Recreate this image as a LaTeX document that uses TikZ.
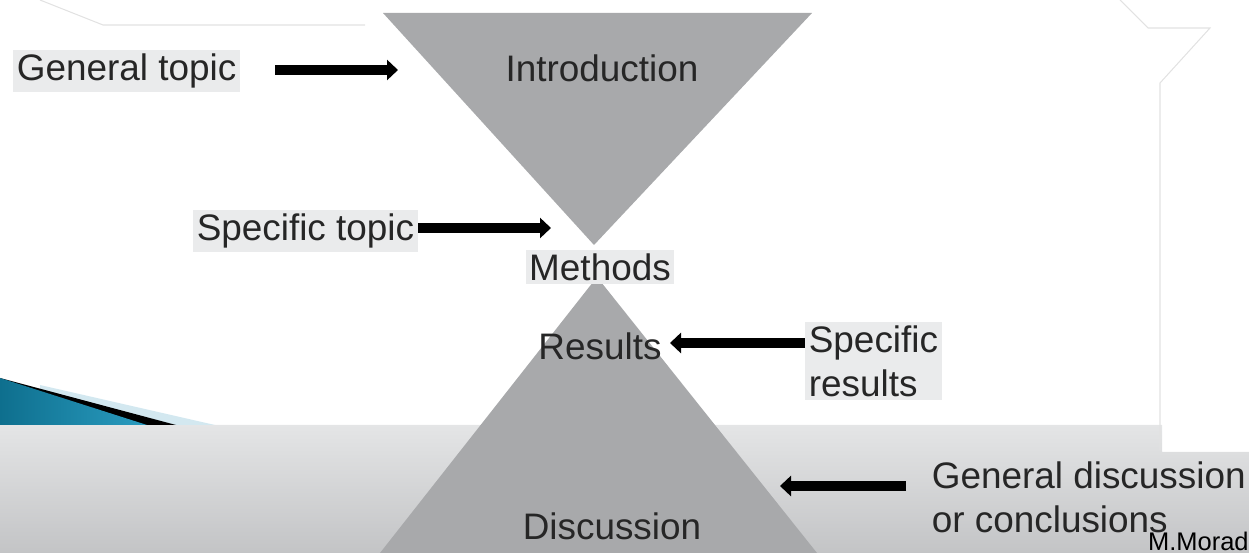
\documentclass[tikz,border=0pt]{standalone}
\usepackage{fontspec}
\setmainfont{Liberation Sans}
\usetikzlibrary{positioning, arrows.meta}

\definecolor{trigray}{HTML}{A8A9AB}
\definecolor{bandtop}{HTML}{E4E5E6}
\definecolor{bandbot}{HTML}{C3C4C6}
\definecolor{lblbg}{HTML}{EAEBEC}
\definecolor{txtgray}{HTML}{262626}
\definecolor{framegray}{HTML}{E2E2E2}
\definecolor{tealdark}{HTML}{0E6F8E}
\definecolor{teallight}{HTML}{2A9CC0}
\definecolor{paleblue}{HTML}{D3E8F0}

\tikzset{
  lbl/.style={font=\fontsize{21}{25}\selectfont, text=txtgray, inner sep=2pt},
  side/.style={lbl, fill=lblbg, align=left},
  fatarrow/.style={line width=0.19cm, -{Triangle[length=0.22cm, width=0.4cm]}},
}

\begin{document}
\begin{tikzpicture}[x=0.02cm, y=-0.02cm]
  \useasboundingbox (0,0) rectangle (1249,553);

  % slide background
  \shade[top color=bandtop, bottom color=bandbot]
    (0,425) -- (1162,425) -- (1162,452) -- (1249,452) -- (1249,553) -- (0,553) -- cycle;
  \draw[framegray, line width=0.6pt] (40,0) -- (103,25) -- (365,25);
  \draw[framegray, line width=0.6pt] (1120,0) -- (1148,28) -- (1210,28) -- (1160,83) -- (1160,450);
  \fill[paleblue] (40,385) -- (215,425) -- (40,425) -- cycle;
  \fill[black] (0,378) -- (176,425) -- (0,425) -- cycle;
  \shade[left color=tealdark, right color=teallight] (0,378) -- (147,425) -- (0,425) -- cycle;

  % hourglass
  \fill[trigray] (383,13) -- (812,13) -- (594,245) -- cycle;
  \fill[trigray] (597,277) -- (380,553) -- (817,553) -- cycle;

  % labels
  \node[lbl] (intro) at (602,68) {Introduction};
  \node[lbl, fill=lblbg] (methods) at (600,267) {Methods};
  \node[lbl] (results) at (600,346) {Results};
  \node[lbl] (discussion) at (612,526) {Discussion};

  \node[side, anchor=west] (gentopic) at (13,71) {General topic};
  \node[side, anchor=east] (spectopic) at (418,231) {Specific topic};
  \node[side, anchor=west] (specres) at (805,361) {Specific\\results};
  \node[lbl, anchor=west, align=left] (gendisc) at (928,497) {General discussion\\or conclusions};
  \node[font=\fontsize{14.5}{16}\selectfont, anchor=east, inner sep=0pt] (author) at (1249,541) {M.Morad};

  % arrows
  \coordinate (introtip) at (398,70);
  \coordinate (apextip) at (551,228);
  \coordinate (restip) at (670,343);
  \coordinate (disctip) at (780,486);
  \coordinate (discstart) at (906,486);

  \draw[fatarrow] ([xshift=0.7cm]gentopic.east |- introtip) -- (introtip);
  \draw[fatarrow] (spectopic.east |- apextip) -- (apextip);
  \draw[fatarrow] (specres.west |- restip) -- (restip);
  \draw[fatarrow] (discstart) -- (disctip);
\end{tikzpicture}
\end{document}
